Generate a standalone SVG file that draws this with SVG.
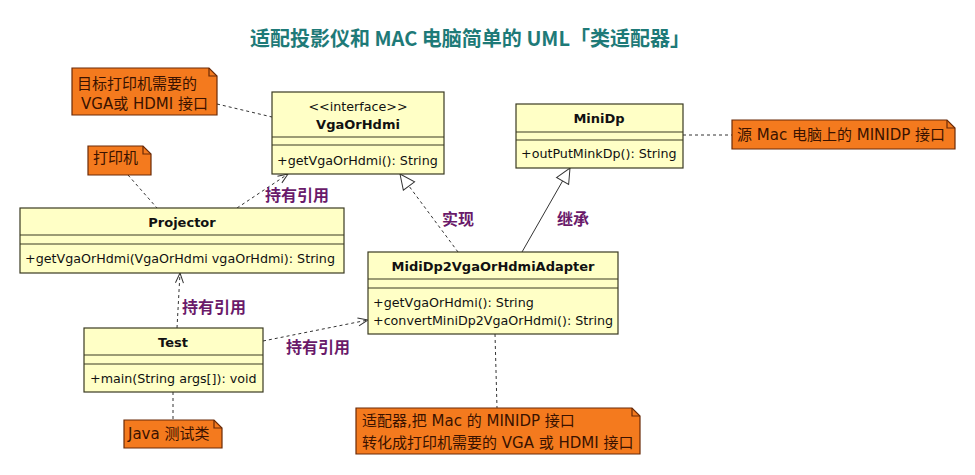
<svg xmlns="http://www.w3.org/2000/svg" width="975" height="475" viewBox="0 0 975 475">
<style>
.cls rect{fill:#ffffc6;stroke:#3a3a22;stroke-width:1.2}
.cls line{stroke:#3a3a22;stroke-width:1.2}
.t{font-family:"DejaVu Sans","Noto Sans CJK SC",sans-serif;font-size:12.7px;fill:#111}
.b{font-weight:bold;text-anchor:middle;font-size:13px}
.note polygon{fill:#f47a1e;stroke:#6a2a08;stroke-width:1.2}
.note polyline{fill:none;stroke:#6a2a08;stroke-width:1.2}
.nt{font-family:"DejaVu Sans","Noto Sans CJK SC",sans-serif;font-size:15px;fill:#3a1200}
.lbl{font-family:"Noto Sans CJK SC",sans-serif;font-size:16px;font-weight:bold;fill:#6a1a6a}
.d{stroke:#333;stroke-width:1;stroke-dasharray:3,3;fill:none}
.s{stroke:#333;stroke-width:1;fill:none}
</style>
<defs>
<marker id="open" markerWidth="12" markerHeight="10" refX="11" refY="5" orient="auto" markerUnits="userSpaceOnUse"><path d="M1,1 L11,5 L1,9" fill="none" stroke="#333" stroke-width="1"/></marker>
<marker id="tri" markerWidth="18" markerHeight="16" refX="16" refY="8" orient="auto" markerUnits="userSpaceOnUse"><path d="M1,1 L16,8 L1,15 Z" fill="#fff" stroke="#333" stroke-width="1"/></marker>
</defs>
<rect width="975" height="475" fill="#fff"/>
<text x="470" y="46" text-anchor="middle" font-family="'Noto Sans CJK SC','DejaVu Sans',sans-serif" font-size="20" font-weight="bold" fill="#1e7a78">适配投影仪和 MAC 电脑简单的 UML「类适配器」</text>

<g id="connectors">
<line class="d" x1="217" y1="104" x2="272" y2="117"/>
<line class="d" x1="128" y1="175" x2="157" y2="208"/>
<line class="d" x1="237" y1="208" x2="288" y2="174" marker-end="url(#open)"/>
<line class="d" x1="458" y1="252" x2="400" y2="174" marker-end="url(#tri)"/>
<line class="s" x1="522" y1="252" x2="570" y2="168" marker-end="url(#tri)"/>
<line class="d" x1="177" y1="328" x2="180" y2="273" marker-end="url(#open)"/>
<line class="d" x1="263" y1="341" x2="368" y2="320" marker-end="url(#open)"/>
<line class="d" x1="173" y1="392" x2="173" y2="420"/>
<line class="d" x1="495" y1="334" x2="497" y2="408"/>
<line class="d" x1="683" y1="135" x2="732" y2="135"/>
<text class="lbl" x="265" y="201">持有引用</text>
<text class="lbl" x="442" y="225">实现</text>
<text class="lbl" x="557" y="225">继承</text>
<text class="lbl" x="182" y="313">持有引用</text>
<text class="lbl" x="286" y="353">持有引用</text>
</g>

<g id="VgaOrHdmi" class="cls">
<rect x="272" y="92" width="172" height="82"/>
<line x1="272" y1="137" x2="444" y2="137"/>
<line x1="272" y1="145" x2="444" y2="145"/>
<text class="t" x="358" y="111" text-anchor="middle">&lt;&lt;interface&gt;&gt;</text>
<text class="t b" x="358" y="129">VgaOrHdmi</text>
<text class="t" x="277" y="165">+getVgaOrHdmi(): String</text>
</g>

<g id="MiniDp" class="cls">
<rect x="516" y="104" width="167" height="64"/>
<line x1="516" y1="132" x2="683" y2="132"/>
<line x1="516" y1="140" x2="683" y2="140"/>
<text class="t b" x="599" y="123">MiniDp</text>
<text class="t" x="521" y="158">+outPutMinkDp(): String</text>
</g>

<g id="Projector" class="cls">
<rect x="20" y="208" width="324" height="65"/>
<line x1="20" y1="235" x2="344" y2="235"/>
<line x1="20" y1="244" x2="344" y2="244"/>
<text class="t b" x="182" y="227">Projector</text>
<text class="t" x="25" y="263">+getVgaOrHdmi(VgaOrHdmi vgaOrHdmi): String</text>
</g>

<g id="Adapter" class="cls">
<rect x="368" y="252" width="250" height="82"/>
<line x1="368" y1="279" x2="618" y2="279"/>
<line x1="368" y1="288" x2="618" y2="288"/>
<text class="t b" x="493" y="271">MidiDp2VgaOrHdmiAdapter</text>
<text class="t" x="373" y="307">+getVgaOrHdmi(): String</text>
<text class="t" x="373" y="325">+convertMiniDp2VgaOrHdmi(): String</text>
</g>

<g id="Test" class="cls">
<rect x="84" y="328" width="179" height="64"/>
<line x1="84" y1="355" x2="263" y2="355"/>
<line x1="84" y1="364" x2="263" y2="364"/>
<text class="t b" x="173" y="347">Test</text>
<text class="t" x="90" y="383">+main(String args[]): void</text>
</g>

<g id="note-target" class="note">
<polygon points="72,68 209,68 217,76 217,115 72,115"/>
<polyline points="209,68 209,76 217,76"/>
<text class="nt" x="77" y="89">目标打印机需要的</text>
<text class="nt" x="81" y="109">VGA或 HDMI 接口</text>
</g>

<g id="note-printer" class="note">
<polygon points="88,146 143,146 151,154 151,175 88,175"/>
<polyline points="143,146 143,154 151,154"/>
<text class="nt" x="93" y="163">打印机</text>
</g>

<g id="note-source" class="note">
<polygon points="732,120 947,120 955,128 955,149 732,149"/>
<polyline points="947,120 947,128 955,128"/>
<text class="nt" x="737" y="140">源 Mac 电脑上的 MINIDP 接口</text>
</g>

<g id="note-java" class="note">
<polygon points="124,420 214,420 222,428 222,448 124,448"/>
<polyline points="214,420 214,428 222,428"/>
<text class="nt" x="128" y="439">Java 测试类</text>
</g>

<g id="note-adapter" class="note">
<polygon points="356,408 632,408 640,416 640,454 356,454"/>
<polyline points="632,408 632,416 640,416"/>
<text class="nt" x="362" y="426">适配器,把 Mac 的 MINIDP 接口</text>
<text class="nt" x="362" y="448">转化成打印机需要的 VGA 或 HDMI 接口</text>
</g>
</svg>
